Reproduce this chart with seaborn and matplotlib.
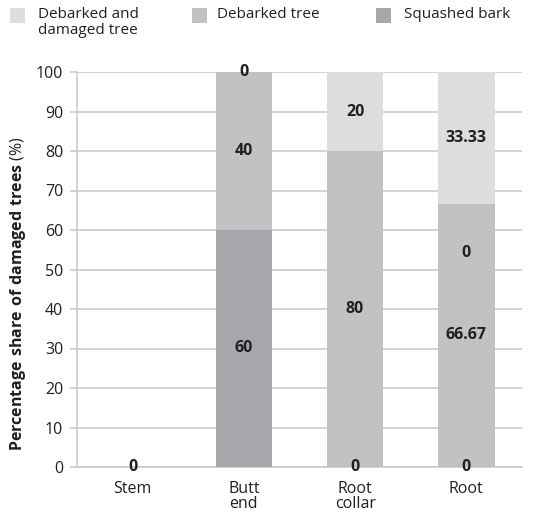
import matplotlib
matplotlib.use("Agg")
import matplotlib.pyplot as plt
from matplotlib.patches import Rectangle
import seaborn as sns
import pandas as pd

# Share of damaged trees (%) per tree part, split by damage type
categories = ["Stem", "Butt\nend", "Root\ncollar", "Root"]
squashed_bark = [0, 60, 0, 0]
debarked_tree = [0, 40, 80, 66.67]
debarked_damaged = [0, 0, 20, 33.33]

legend_labels = ["Debarked and\ndamaged tree", "Debarked tree", "Squashed bark"]
yticks = list(range(0, 101, 10))

color_light = "#DCDDDF"
color_mid = "#C1C2C4"
color_dark = "#A6A7AA"
text_color = "#231F20"
grid_color = "#C8C8C8"

FONT = "Open Sans"
sns.set_theme(style="white")
plt.rcParams["font.family"] = [FONT, "DejaVu Sans"]
plt.rcParams["mathtext.fontset"] = "custom"
plt.rcParams["mathtext.rm"] = FONT
plt.rcParams["mathtext.bf"] = FONT + ":bold"

W, H = 545, 515
fig = plt.figure(figsize=(W / 100, H / 100), dpi=100)
ax = fig.add_axes([77 / W, 1 - 467 / H, (522 - 77) / W, (467 - 72) / H])

df = pd.DataFrame({
    "category": categories,
    "squashed": squashed_bark,
    "debarked": debarked_tree,
    "damaged": debarked_damaged,
})
df["top_squashed"] = df["squashed"]
df["top_debarked"] = df["squashed"] + df["debarked"]
df["top_damaged"] = df["top_debarked"] + df["damaged"]

# stacked bars: cumulative heights drawn tallest first, each layer covering the one behind
for col, color in [("top_damaged", color_light), ("top_debarked", color_mid), ("top_squashed", color_dark)]:
    sns.barplot(data=df, x="category", y=col, color=color, saturation=1,
                width=0.51, errorbar=None, linewidth=0, ax=ax, zorder=3)

# value labels centred on each segment (coinciding labels written once)
for i, row in df.iterrows():
    segments = [
        (0, row["squashed"]),
        (row["top_squashed"], row["debarked"]),
        (row["top_debarked"], row["damaged"]),
    ]
    placed = set()
    for bottom, value in segments:
        y = bottom + value / 2
        text = f"{value:g}"
        if (y, text) in placed:
            continue
        placed.add((y, text))
        ax.text(i, y, text, ha="center", va="center",
                fontsize=11.5, fontweight="bold", color=text_color, zorder=5)
ax.text(3, 54.3, "0", ha="center", va="center", fontsize=11.5,
        fontweight="bold", color=text_color, zorder=5)

ax.set_ylim(0, 100)
ax.set_xlim(-0.5, 3.5)
ax.set_yticks(yticks)
ax.set_yticklabels([str(t) for t in yticks])
ax.yaxis.grid(True, color=grid_color, linewidth=1.1)
ax.set_axisbelow(True)
for side in ["top", "right"]:
    ax.spines[side].set_visible(False)
for side in ["left", "bottom"]:
    ax.spines[side].set_color(grid_color)
    ax.spines[side].set_linewidth(1.1)

ax.tick_params(axis="y", left=True, length=5, width=1.1, color=grid_color,
               pad=5, labelsize=11.5, labelcolor=text_color)
ax.tick_params(axis="x", bottom=False, length=0, pad=10, labelsize=11.5,
               labelcolor=text_color)
for lbl in ax.get_xticklabels():
    lbl.set_linespacing(0.95)
ax.set_xlabel("")
ax.set_ylabel(r"$\mathbf{Percentage\ share\ of\ damaged\ trees}$ (%)",
              fontsize=11.5, color=text_color)
ax.yaxis.set_label_coords(-0.11, 0.44)

# legend across the top
legend_items = [
    (10, color_light, legend_labels[0], 38),
    (192, color_mid, legend_labels[1], 217),
    (376, color_dark, legend_labels[2], 404),
]
for px, color, label, tx in legend_items:
    fig.patches.append(Rectangle((px / W, 1 - 23 / H), 15 / W, 15 / H,
                                 transform=fig.transFigure, facecolor=color,
                                 edgecolor="none"))
    fig.text(tx / W, 1 - 7 / H, label, ha="left", va="top", fontsize=11,
             color=text_color, linespacing=1.1)

fig.savefig("out.png", dpi=100)
